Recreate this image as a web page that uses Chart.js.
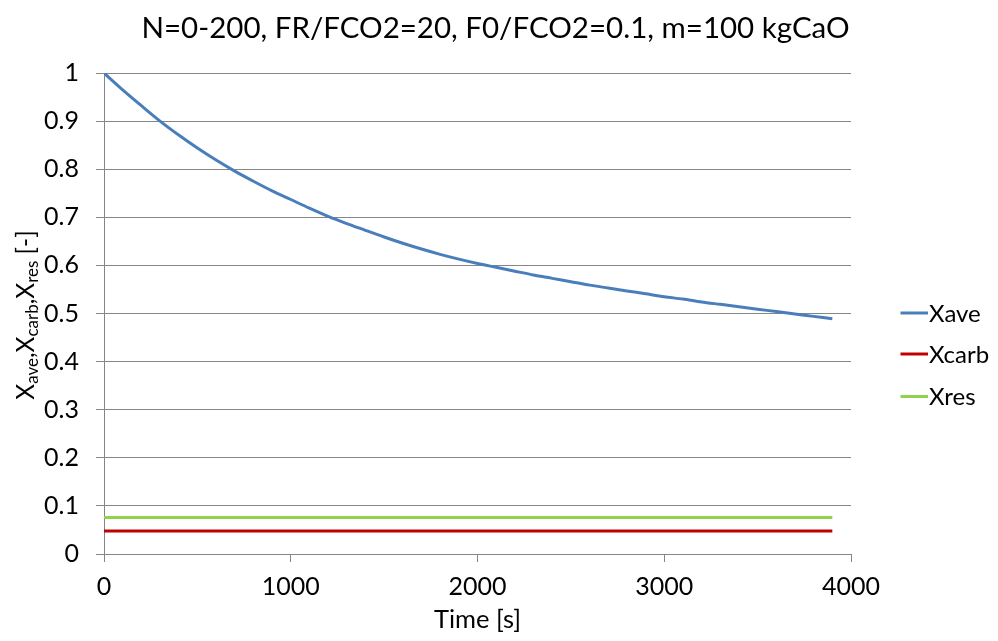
<!DOCTYPE html>
<html><head><meta charset="utf-8">
<script src="https://cdn.jsdelivr.net/npm/chart.js@4.4.1/dist/chart.umd.min.js"></script>
<style>html,body{margin:0;padding:0;background:#fff}#wrap{width:998px;height:641px;position:relative}</style>
</head><body><div id="wrap"><canvas id="c" width="998" height="641"></canvas></div>
<script>
const titleText = "N=0-200, FR/FCO2=20, F0/FCO2=0.1, m=100 kgCaO";
const seriesNames = ["Xave", "Xcarb", "Xres"];
const aveTimes = [0,100,200,300,400,500,600,700,800,900,1000,1100,1200,1300,1400,1500,1600,1700,1800,1900,2000,2100,2200,2300,2400,2500,2600,2700,2800,2900,3000,3100,3200,3300,3400,3500,3600,3700,3800,3900];
const aveValues = [1.000,0.965,0.932,0.900,0.871,0.844,0.819,0.796,0.775,0.755,0.737,0.719,0.702,0.687,0.673,0.659,0.646,0.634,0.623,0.613,0.604,0.596,0.588,0.580,0.573,0.566,0.559,0.553,0.547,0.541,0.535,0.530,0.524,0.519,0.514,0.509,0.504,0.499,0.494,0.489];
const carbTimes = [0, 3900];
const carbValues = [0.048, 0.048];
const resTimes = [0, 3900];
const resValues = [0.076, 0.076];
const xTicks = [0, 1000, 2000, 3000, 4000];
const yTicks = [0,0.1,0.2,0.3,0.4,0.5,0.6,0.7,0.8,0.9,1];

const FONT = "Lato, 'Open Sans', sans-serif";
const colors = ["#4a7ebb", "#c00000", "#92d050"];
const toPts = (xs, ys) => xs.map((x, i) => ({x, y: ys[i]}));

const overlay = {
  id: 'overlay',
  afterDraw(chart) {
    const ctx = chart.ctx;
    const ca = chart.chartArea;
    ctx.save();
    ctx.fillStyle = '#000';
    // title
    ctx.font = "29.5px " + FONT;
    ctx.textAlign = 'center';
    ctx.textBaseline = 'middle';
    ctx.fillText(titleText, 495.5, 28);
    // x title
    ctx.font = "25.5px " + FONT;
    ctx.fillText("Time [s]", (ca.left + ca.right) / 2, 620);
    // y title with subscripts
    const parts = [["X",0],["ave",1],[",X",0],["carb",1],[",X",0],["res",1],[" [-]",0]];
    const big = "24.5px " + FONT, small = "17px " + FONT;
    let total = 0;
    parts.forEach(p => { ctx.font = p[1] ? small : big; total += ctx.measureText(p[0]).width; });
    ctx.translate(25, 315);
    ctx.rotate(-Math.PI / 2);
    ctx.textAlign = 'left';
    ctx.textBaseline = 'alphabetic';
    let x = -total / 2;
    parts.forEach(p => {
      ctx.font = p[1] ? small : big;
      ctx.fillText(p[0], x, p[1] ? 13 : 9);
      x += ctx.measureText(p[0]).width;
    });
    ctx.restore();
    // legend
    ctx.save();
    ctx.font = "24px " + FONT;
    ctx.textBaseline = 'middle';
    ctx.textAlign = 'left';
    const ly = [313, 354, 396.5];
    chart.data.datasets.forEach((ds, i) => {
      ctx.strokeStyle = ds.borderColor;
      ctx.lineWidth = 3;
      ctx.beginPath();
      ctx.moveTo(900.5, ly[i]);
      ctx.lineTo(928, ly[i]);
      ctx.stroke();
      ctx.fillStyle = '#000';
      ctx.fillText(ds.label, 929, ly[i] + 1);
    });
    ctx.restore();
  }
};

new Chart(document.getElementById('c'), {
  type: 'line',
  data: {
    datasets: [
      {label: seriesNames[0], data: toPts(aveTimes, aveValues), borderColor: colors[0], borderWidth: 3, pointRadius: 0, tension: 0.3, fill: false},
      {label: seriesNames[1], data: toPts(carbTimes, carbValues), borderColor: colors[1], borderWidth: 3, pointRadius: 0, fill: false},
      {label: seriesNames[2], data: toPts(resTimes, resValues), borderColor: colors[2], borderWidth: 3, pointRadius: 0, fill: false}
    ]
  },
  options: {
    responsive: false,
    animation: false,
    layout: {padding: {top: 73, right: 147, left: 0, bottom: 0}},
    plugins: {legend: {display: false}, title: {display: false}, tooltip: {enabled: false}},
    scales: {
      x: {
        type: 'linear', min: 0, max: 4000,
        afterBuildTicks: s => { s.ticks = xTicks.map(v => ({value: v})); },
        afterFit: s => { s.height = 87; },
        grid: {display: true, drawOnChartArea: false, drawTicks: true, tickLength: 8, color: '#868686'},
        border: {display: true, color: '#868686', width: 1},
        ticks: {color: '#000', font: {family: FONT, size: 25}, padding: 10, maxRotation: 0, callback: v => String(v)}
      },
      y: {
        min: 0, max: 1,
        afterBuildTicks: s => { s.ticks = yTicks.map(v => ({value: v})); },
        afterFit: s => { s.width = 104; },
        grid: {display: true, drawTicks: true, tickLength: 8, color: '#868686'},
        border: {display: true, color: '#868686', width: 1},
        ticks: {color: '#000', font: {family: FONT, size: 25}, padding: 17, callback: v => String(Math.round(v * 10) / 10)}
      }
    }
  },
  plugins: [overlay]
});
</script></body></html>
